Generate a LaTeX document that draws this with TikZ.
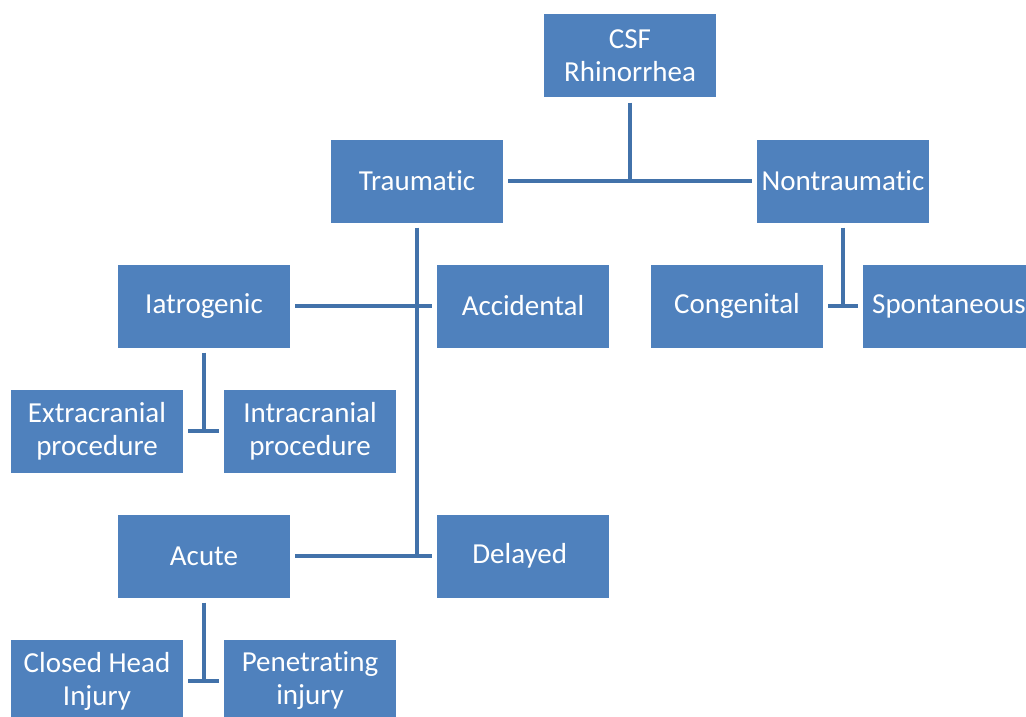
\documentclass[tikz,border=0pt]{standalone}
\usepackage{fontspec}
\setmainfont{Carlito}[RawFeature={-liga;-clig}]
\definecolor{boxblue}{RGB}{79,129,189}
\definecolor{lineblue}{RGB}{66,114,170}
\begin{document}
\begin{tikzpicture}[x=1pt, y=-1pt,
  box/.style={fill=boxblue, text=white, minimum width=172pt, minimum height=83pt, align=center, inner sep=0pt, outer sep=5pt, font=\fontsize{29}{33}\selectfont},
  link/.style={draw=lineblue, line width=4pt}]

 \useasboundingbox (0,0) rectangle (1026,717);
 \clip (0,0) rectangle (1026,717);

	%draw boxes
    \foreach \nm/\px/\py/\lbl in { trau/417/181/Traumatic, nontrau/843/181/Nontraumatic,
                                   iatro/204/306/Iatrogenic, accid/523/306/Accidental, cong/737/306/Congenital, spont/949/306/Spontaneous,
                                   acute/204/556/Acute, delay/523/556/Delayed }{
           \node[box] (\nm) at (\px,\py) {\lbl};
    }

    %two line boxes
 \node[box] (csf) at (630,56) {CSF\\Rhinorrhea};
 \node[box] (extra) at (97,431) {Extracranial\\procedure};
 \node[box] (intra) at (310,431) {Intracranial\\procedure};
 \node[box] (closed) at (97,681) {Closed Head\\Injury};
 \node[box] (penet) at (310,681) {Penetrating\\injury};

   %top split
 \draw[link] (csf) -- (csf |- trau);
 \draw[link] (trau) -- (nontrau);

   %traumatic trunk
 \draw[link] (trau) -- (trau |- acute);
 \draw[link] (iatro) -- (accid);
 \draw[link] (acute) -- (delay);

   %sub splits
 \draw[link] (iatro) -- (iatro |- extra);
 \draw[link] (extra) -- (intra);
 \draw[link] (acute) -- (acute |- closed);
 \draw[link] (closed) -- (penet);
 \draw[link] (nontrau) -- (nontrau |- cong);
 \draw[link] (cong) -- (spont);

\end{tikzpicture}
\end{document}
